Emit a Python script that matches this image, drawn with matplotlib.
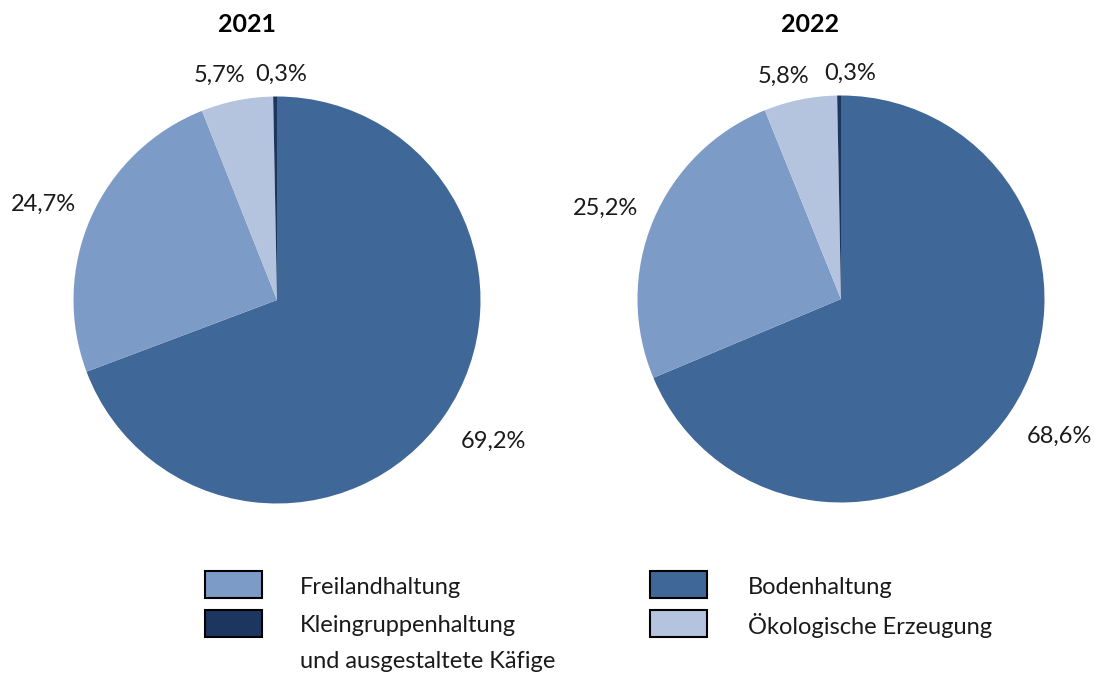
import matplotlib
matplotlib.use("Agg")
import matplotlib.pyplot as plt
from matplotlib.patches import Rectangle
import numpy as np

plt.rcParams['font.family'] = ['Lato', 'DejaVu Sans']

categories = ["Bodenhaltung", "Freilandhaltung", "Ökologische Erzeugung",
              "Kleingruppenhaltung\nund ausgestaltete Käfige"]
years = ["2021", "2022"]
values_2021 = [69.2, 24.7, 5.7, 0.3]
values_2022 = [68.6, 25.2, 5.8, 0.3]
labels_2021 = ["69,2%", "24,7%", "5,7%", "0,3%"]
labels_2022 = ["68,6%", "25,2%", "5,8%", "0,3%"]

colors = ["#3f6797", "#7d9bc7", "#b4c3de", "#1c3660"]

W, H = 1094, 676
fig = plt.figure(figsize=(W / 100, H / 100), dpi=100)

R = 203.5
lim = 1.35
size = 2 * lim * R
FS = 17

def draw(cx, cy, vals, labs, label_dist, label_shift):
    ax = fig.add_axes([(cx - size / 2) / W, (H - cy - size / 2) / H, size / W, size / H])
    wedges, _ = ax.pie(vals, colors=colors, startangle=90, counterclock=False,
                       wedgeprops=dict(linewidth=0, edgecolor='none'))
    ax.set_xlim(-lim, lim)
    ax.set_ylim(-lim, lim)
    ax.set_aspect('equal')
    ax.axis('off')
    for w, lab, d, sh in zip(wedges, labs, label_dist, label_shift):
        ang = np.deg2rad((w.theta1 + w.theta2) / 2 + sh)
        ax.text(d * np.cos(ang), d * np.sin(ang), lab, ha='center', va='center',
                fontsize=FS, color='#1a1a1a')
    return ax

draw(277, 300, values_2021, labels_2021, [1.27, 1.24, 1.14, 1.11], [1.5, 1.5, 3.0, -1.5])
draw(841, 299, values_2022, labels_2022, [1.27, 1.24, 1.13, 1.11], [1.5, 1.5, 3.0, -2.8])

fig.text(247 / W, 1 - 25 / H, years[0], ha='center', va='center', fontsize=18, fontweight='bold')
fig.text(810 / W, 1 - 25 / H, years[1], ha='center', va='center', fontsize=18, fontweight='bold')

# legend
leg_order = [1, 0, 3, 2]
positions = [(205, 571, 300), (650, 571, 748), (205, 610, 300), (650, 610, 748)]
for idx, (px, py, tx) in zip(leg_order, positions):
    fig.patches.append(Rectangle((px / W, 1 - (py + 27) / H), 57 / W, 27 / H,
                                 transform=fig.transFigure, facecolor=colors[idx],
                                 edgecolor='black', linewidth=1.5))
    for k, line in enumerate(categories[idx].split("\n")):
        fig.text(tx / W, 1 - (py + 16 + 36 * k) / H, line, ha='left', va='center',
                 fontsize=FS, color='#1a1a1a')

fig.savefig("out.png", dpi=100)
